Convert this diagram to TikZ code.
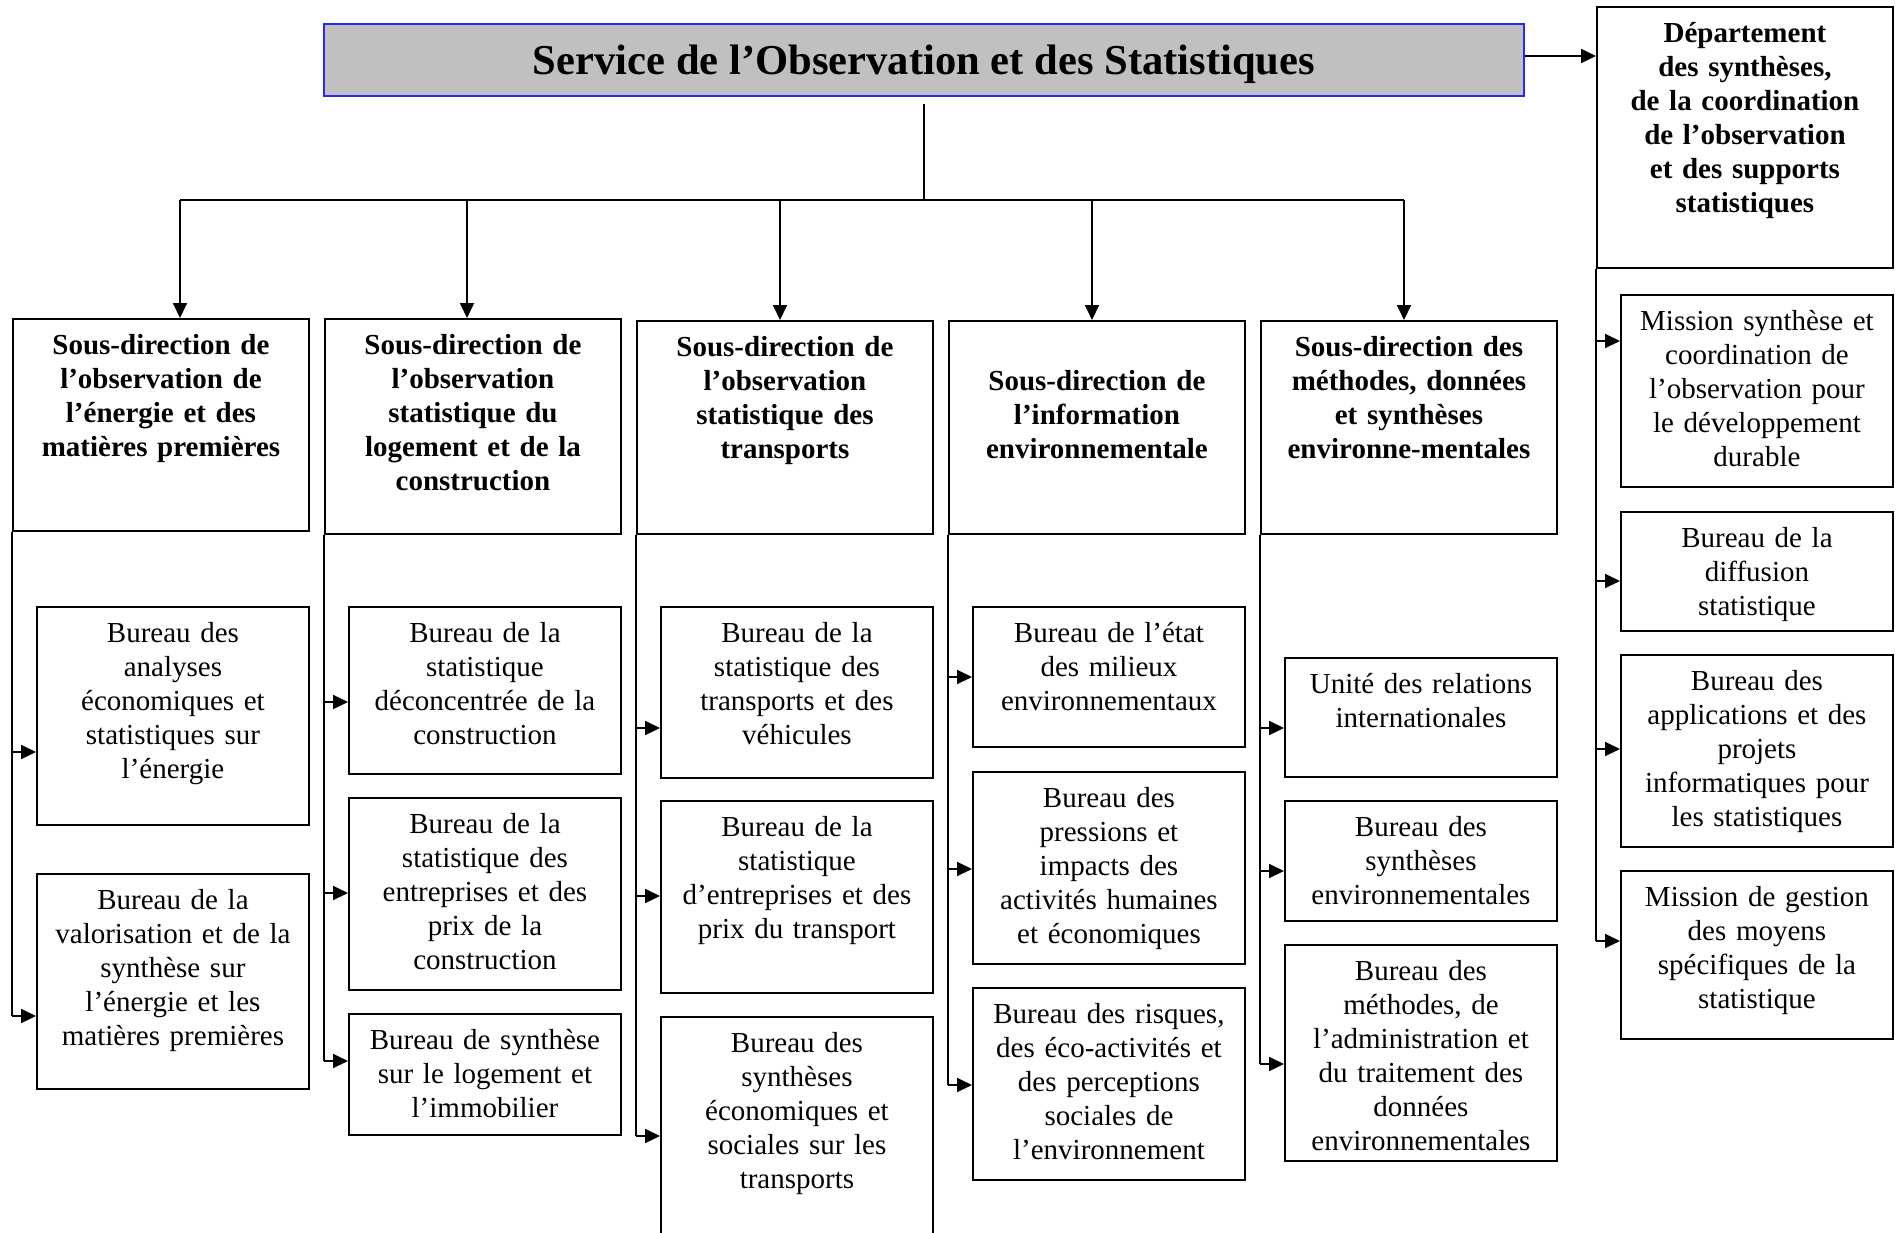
\documentclass[tikz,border=0pt]{standalone}
\usepackage{fontspec}
\setmainfont{Liberation Serif}
\usetikzlibrary{arrows.meta}
\definecolor{titlegray}{RGB}{192,192,192}
\definecolor{titleblue}{RGB}{40,40,235}

% #1 style, #2 name, #3 left, #4 top, #5 width, #6 bottom, #7 text (top aligned)
\newcommand\orgbox[7]{%
  \pgfmathsetmacro\orgdepth{#6-#4-36}%
  \node[#1, text width=#5pt, text depth=\orgdepth pt] (#2) at (#3,#4) {#7};}

\begin{document}
\begin{tikzpicture}[x=1pt,y=-1pt,
  frame/.style={draw, line width=1.9pt, anchor=north west, inner sep=0pt,
                align=center, text height=36pt},
  head/.style={frame, font=\fontsize{29}{34}\selectfont\bfseries},
  unit/.style={frame, font=\fontsize{29}{34}\selectfont},
  link/.style={line width=1.9pt},
  arr/.style={link, -{Triangle[length=15pt,width=14pt]}}]
\useasboundingbox (0,0) rectangle (1903,1232);
\clip (0,0) rectangle (1903,1232);

% top of the organisation
\node[draw=titleblue, line width=1.8pt, fill=titlegray, minimum width=1200pt,
      minimum height=72pt, inner sep=0pt, text height=29pt, text depth=0pt,
      font=\fontsize{42.6}{50}\selectfont\bfseries] (title) at (924,60)
      {Service de l’Observation et des Statistiques};

\orgbox{head}{dep}{1596}{6}{296}{267}{Département\\des synthèses,\\de la coordination\\de l’observation\\et des supports\\statistiques}

% sub-directorates
\orgbox{head}{hd1}{12}{318}{296}{530}{Sous-direction de\\l’observation de\\l’énergie et des\\matières premières}
\orgbox{head}{hd2}{324}{318}{296}{533}{Sous-direction de\\l’observation\\statistique du\\logement et de la\\construction}
\orgbox{head}{hd3}{636}{320}{296}{533}{Sous-direction de\\l’observation\\statistique des\\transports}
\orgbox{head}{hd4}{948}{320}{296}{533}{\mbox{}\\Sous-direction de\\l’information\\environnementale}
\orgbox{head}{hd5}{1260}{320}{296}{533}{Sous-direction des\\méthodes, données\\et synthèses\\environne-mentales}

% offices
\orgbox{unit}{b11}{36}{606}{272}{824}{Bureau des\\analyses\\économiques et\\statistiques sur\\l’énergie}
\orgbox{unit}{b12}{36}{873}{272}{1088}{Bureau de la\\valorisation et de la\\synthèse sur\\l’énergie et les\\matières premières}

\orgbox{unit}{b21}{348}{606}{272}{773}{Bureau de la\\statistique\\déconcentrée de la\\construction}
\orgbox{unit}{b22}{348}{797}{272}{989}{Bureau de la\\statistique des\\entreprises et des\\prix de la\\construction}
\orgbox{unit}{b23}{348}{1013}{272}{1134}{Bureau de synthèse\\sur le logement et\\l’immobilier}

\orgbox{unit}{b31}{660}{606}{272}{777}{Bureau de la\\statistique des\\transports et des\\véhicules}
\orgbox{unit}{b32}{660}{800}{272}{992}{Bureau de la\\statistique\\d’entreprises et des\\prix du transport}
\orgbox{unit}{b33}{660}{1016}{272}{1260}{Bureau des\\synthèses\\économiques et\\sociales sur les\\transports}

\orgbox{unit}{b41}{972}{606}{272}{746}{Bureau de l’état\\des milieux\\environnementaux}
\orgbox{unit}{b42}{972}{771}{272}{963}{Bureau des\\pressions et\\impacts des\\activités humaines\\et économiques}
\orgbox{unit}{b43}{972}{987}{272}{1179}{Bureau des risques,\\des éco-activités et\\des perceptions\\sociales de\\l’environnement}

\orgbox{unit}{b51}{1284}{657}{272}{776}{Unité des relations\\internationales}
\orgbox{unit}{b52}{1284}{800}{272}{920}{Bureau des\\synthèses\\environnementales}
\orgbox{unit}{b53}{1284}{944}{272}{1160}{Bureau des\\méthodes, de\\l’administration et\\du traitement des\\données\\environnementales}

\orgbox{unit}{r1}{1620}{294}{272}{486}{Mission synthèse et\\coordination de\\l’observation pour\\le développement\\durable}
\orgbox{unit}{r2}{1620}{511}{272}{630}{Bureau de la\\diffusion\\statistique}
\orgbox{unit}{r3}{1620}{654}{272}{846}{Bureau des\\applications et des\\projets\\informatiques pour\\les statistiques}
\orgbox{unit}{r4}{1620}{870}{272}{1038}{Mission de gestion\\des moyens\\spécifiques de la\\statistique}

% distribution bus under the title
\coordinate (stem) at (924,104);
\coordinate (hub) at (924,200);
\coordinate (j1) at (180,200);
\coordinate (j2) at (467,200);
\coordinate (j3) at (780,200);
\coordinate (j4) at (1092,200);
\coordinate (j5) at (1404,200);
\draw[link] (stem) -- (hub);
\draw[link] (j1) -- (j5);
\draw[arr] (j1) -- (j1 |- hd1.north);
\draw[arr] (j2) -- (j2 |- hd2.north);
\draw[arr] (j3) -- (j3 |- hd3.north);
\draw[arr] (j4) -- (j4 |- hd4.north);
\draw[arr] (j5) -- (j5 |- hd5.north);
\draw[arr] ([yshift=4pt]title.east) -- ([yshift=4pt]title.east -| dep.west);

% entry points of the offices
\coordinate (e11) at (36,752);   \coordinate (e12) at (36,1016);
\coordinate (e21) at (348,702);  \coordinate (e22) at (348,893);  \coordinate (e23) at (348,1061);
\coordinate (e31) at (660,728);  \coordinate (e32) at (660,896);  \coordinate (e33) at (660,1136);
\coordinate (e41) at (972,677);  \coordinate (e42) at (972,869);  \coordinate (e43) at (972,1085);
\coordinate (e51) at (1284,728); \coordinate (e52) at (1284,871); \coordinate (e53) at (1284,1064);
\coordinate (f1) at (1620,341);  \coordinate (f2) at (1620,581);  \coordinate (f3) at (1620,749);
\coordinate (f4) at (1620,941);

% vertical trunks and branches
\draw[link] (hd1.south west) -- (hd1.south west |- e12);
\draw[arr] (hd1.south west |- e11) -- (e11);
\draw[arr] (hd1.south west |- e12) -- (e12);

\draw[link] (hd2.south west) -- (hd2.south west |- e23);
\draw[arr] (hd2.south west |- e21) -- (e21);
\draw[arr] (hd2.south west |- e22) -- (e22);
\draw[arr] (hd2.south west |- e23) -- (e23);

\draw[link] (hd3.south west) -- (hd3.south west |- e33);
\draw[arr] (hd3.south west |- e31) -- (e31);
\draw[arr] (hd3.south west |- e32) -- (e32);
\draw[arr] (hd3.south west |- e33) -- (e33);

\draw[link] (hd4.south west) -- (hd4.south west |- e43);
\draw[arr] (hd4.south west |- e41) -- (e41);
\draw[arr] (hd4.south west |- e42) -- (e42);
\draw[arr] (hd4.south west |- e43) -- (e43);

\draw[link] (hd5.south west) -- (hd5.south west |- e53);
\draw[arr] (hd5.south west |- e51) -- (e51);
\draw[arr] (hd5.south west |- e52) -- (e52);
\draw[arr] (hd5.south west |- e53) -- (e53);

\draw[link] (dep.south west) -- (dep.south west |- f4);
\draw[arr] (dep.south west |- f1) -- (f1);
\draw[arr] (dep.south west |- f2) -- (f2);
\draw[arr] (dep.south west |- f3) -- (f3);
\draw[arr] (dep.south west |- f4) -- (f4);
\end{tikzpicture}
\end{document}
